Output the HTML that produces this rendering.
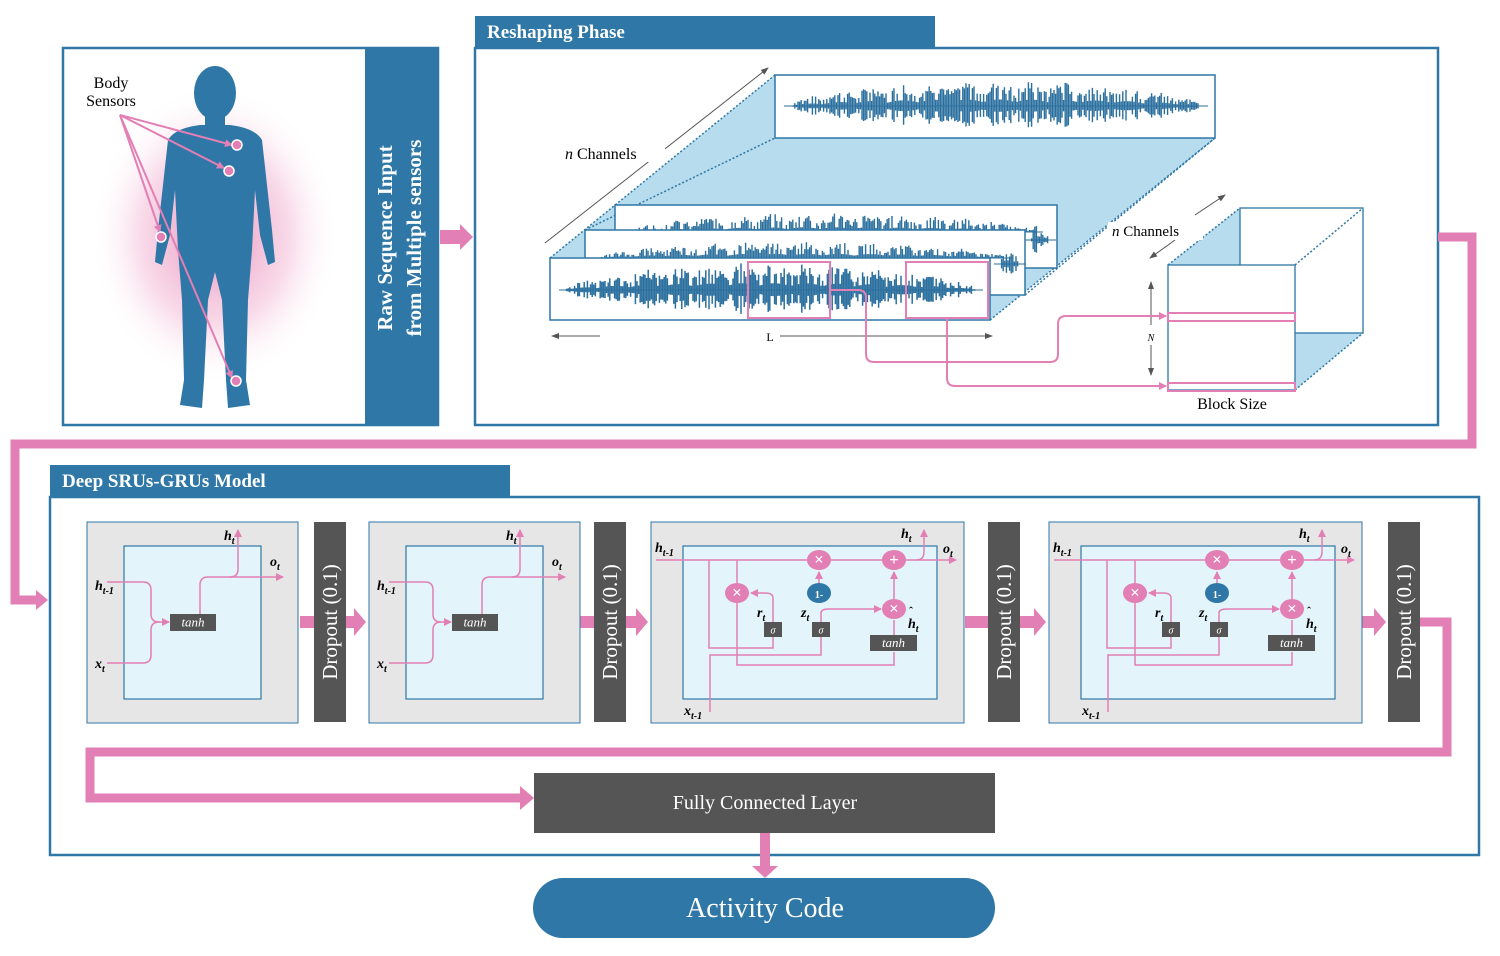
<!DOCTYPE html>
<html><head><meta charset="utf-8"><style>
html,body{margin:0;padding:0;background:#fff}
svg{display:block}
text{font-family:"Liberation Serif",serif}
</style></head><body>
<svg id="s" width="1500" height="956" viewBox="0 0 1500 956" xmlns="http://www.w3.org/2000/svg">
<defs>
<radialGradient id="glow" cx="50%" cy="50%" r="50%">
<stop offset="0" stop-color="#e47fb3" stop-opacity="0.9"/>
<stop offset="0.6" stop-color="#f2b6d3" stop-opacity="0.5"/>
<stop offset="1" stop-color="#fff" stop-opacity="0"/>
</radialGradient>
<marker id="ah" markerWidth="8" markerHeight="8" refX="7" refY="4" orient="auto" markerUnits="userSpaceOnUse"><path d="M0,0 L8,4 L0,8z" fill="#e27fb4"/></marker>
<marker id="ag" markerWidth="8" markerHeight="8" refX="7" refY="4" orient="auto" markerUnits="userSpaceOnUse"><path d="M0,1 L8,4 L0,7z" fill="#555"/></marker>
</defs>

<!-- Left panel -->
<rect x="63" y="48" width="375" height="377" fill="#fff" stroke="#2e77a6" stroke-width="2.5"/>
<ellipse cx="215" cy="235" rx="125" ry="150" fill="url(#glow)"/>
<g fill="#2e77a6">
<ellipse cx="215" cy="93" rx="21" ry="27"/>
<rect x="205" y="112" width="20" height="20"/>
<path d="M168,140 Q175,128 200,125 L230,125 Q255,128 262,140 L272,230 L275,262 L268,265 L260,235 L255,190 L252,250 L248,300 L246,380 L250,405 L228,408 L226,380 L222,300 L215,272 L208,300 L204,380 L202,408 L180,405 L184,380 L182,300 L178,250 L175,190 L170,235 L162,265 L155,262 L158,230 Z"/>
</g>
<text x="111" y="88" font-size="16" text-anchor="middle">Body</text>
<text x="111" y="106" font-size="16" text-anchor="middle">Sensors</text>
<g stroke="#e27fb4" stroke-width="2" fill="none">
<line x1="120" y1="115" x2="232" y2="145" marker-end="url(#ah)"/>
<line x1="120" y1="115" x2="224" y2="168" marker-end="url(#ah)"/>
<line x1="120" y1="115" x2="160" y2="232" marker-end="url(#ah)"/>
<line x1="120" y1="115" x2="232" y2="378" marker-end="url(#ah)"/>
</g>
<g fill="#e27fb4" stroke="#fff" stroke-width="1.5"><circle cx="237" cy="145" r="5"/><circle cx="229" cy="171" r="5"/><circle cx="161" cy="237" r="5"/><circle cx="236" cy="381" r="5"/></g>
<rect x="365" y="48" width="73" height="377" fill="#2e77a6"/>
<text transform="translate(392,238) rotate(-90)" font-size="21" font-weight="bold" fill="#fff" text-anchor="middle">Raw Sequence Input</text>
<text transform="translate(421,238) rotate(-90)" font-size="21" font-weight="bold" fill="#fff" text-anchor="middle">from Multiple sensors</text>
<path d="M440,230 L460,230 L460,224 L473,237 L460,250 L460,244 L440,244Z" fill="#e27fb4"/>

<!-- Reshaping -->
<rect x="475" y="48" width="963" height="377" fill="#fff" stroke="#2e77a6" stroke-width="2.5"/>
<rect x="475" y="16" width="460" height="32" fill="#2e77a6"/>
<text x="487" y="38" font-size="19" font-weight="bold" fill="#fff">Reshaping Phase</text>

<polygon points="550,258 775,75 1215,138 990,320" fill="#b6dcee"/>
<g stroke="#2e77a6" stroke-width="1.5" stroke-dasharray="2,2" fill="none">
<line x1="550" y1="258" x2="775" y2="75"/><line x1="585" y1="230" x2="775" y2="138"/><line x1="990" y1="320" x2="1215" y2="138"/><line x1="1025" y1="295" x2="1215" y2="138"/>
</g>
<line x1="545" y1="243" x2="768" y2="68" stroke="#555" stroke-width="1" marker-end="url(#ag)"/>
<rect x="555" y="140" width="110" height="22" fill="#fff"/>
<text x="565" y="159" font-size="16"><tspan font-style="italic">n</tspan> Channels</text>
<rect x="775" y="75" width="440" height="63" fill="#fff" stroke="#2e77a6" stroke-width="1.5"/>
<g id="w0" fill="none" stroke="#2a6f9e" stroke-width="1.4"></g>
<rect x="615" y="205" width="442" height="63" fill="#fff" stroke="#2e77a6" stroke-width="1.5"/>
<g id="w1" fill="none" stroke="#2a6f9e" stroke-width="1.4"></g>
<rect x="585" y="230" width="440" height="65" fill="#fff" stroke="#2e77a6" stroke-width="1.5"/>
<g id="w2" fill="none" stroke="#2a6f9e" stroke-width="1.4"></g>
<rect x="550" y="258" width="440" height="62" fill="#fff" stroke="#2e77a6" stroke-width="1.5"/>
<g id="w3" fill="none" stroke="#2a6f9e" stroke-width="1.5"></g>
<rect x="748" y="262" width="82" height="56" fill="none" stroke="#e27fb4" stroke-width="2"/>
<rect x="906" y="262" width="82" height="56" fill="none" stroke="#e27fb4" stroke-width="2"/>
<line x1="600" y1="336" x2="552" y2="336" stroke="#555" stroke-width="1" marker-end="url(#ag)"/>
<line x1="780" y1="336" x2="992" y2="336" stroke="#555" stroke-width="1" marker-end="url(#ag)"/>
<text x="770" y="341" font-size="12" text-anchor="middle">L</text>

<!-- cube -->
<polygon points="1168,265 1240,208 1240,265" fill="#b6dcee"/>
<polygon points="1295,390 1363,333 1295,333" fill="#b6dcee"/>
<rect x="1240" y="208" width="123" height="125" fill="none" stroke="#2e77a6" stroke-width="1.3"/>
<rect x="1168" y="265" width="127" height="125" fill="#fff" stroke="#2e77a6" stroke-width="1.3"/>
<g stroke="#2e77a6" stroke-width="1.5" stroke-dasharray="2,2"><line x1="1168" y1="265" x2="1240" y2="208"/><line x1="1295" y1="265" x2="1363" y2="208"/><line x1="1295" y1="390" x2="1363" y2="333"/></g>
<line x1="1195" y1="215" x2="1225" y2="195" stroke="#555" marker-end="url(#ag)"/>
<line x1="1175" y1="240" x2="1150" y2="258" stroke="#555" marker-end="url(#ag)"/>
<rect x="1108" y="222" width="95" height="18" fill="#fff"/>
<text x="1112" y="236" font-size="15"><tspan font-style="italic">n</tspan> Channels</text>
<line x1="1151" y1="325" x2="1151" y2="282" stroke="#555" marker-end="url(#ag)"/>
<line x1="1151" y1="345" x2="1151" y2="375" stroke="#555" marker-end="url(#ag)"/>
<text x="1151" y="341" font-size="10" font-style="italic" text-anchor="middle">N</text>
<rect x="1168" y="313" width="127" height="8" fill="none" stroke="#e27fb4" stroke-width="2"/>
<rect x="1168" y="383" width="127" height="8" fill="none" stroke="#e27fb4" stroke-width="2"/>
<g stroke="#e27fb4" stroke-width="2" fill="none">
<path d="M830,290 L858,290 Q866,290 866,298 L866,354 Q866,362 874,362 L1050,362 Q1058,362 1058,354 L1058,324 Q1058,316 1066,316 L1166,316" marker-end="url(#ah)"/>
<path d="M947,318 L947,378 Q947,386 955,386 L1166,386" marker-end="url(#ah)"/>
</g>
<text x="1232" y="409" font-size="16" text-anchor="middle">Block Size</text>

<path d="M1438,237 L1472,237 L1472,444 L15,444 L15,600 L38,600" fill="none" stroke="#e27fb4" stroke-width="9"/>
<path d="M36,590 L48,600 L36,610Z" fill="#e27fb4"/>

<!-- Deep model -->
<rect x="50" y="497" width="1429" height="358" fill="#fff" stroke="#2e77a6" stroke-width="2.5"/>
<rect x="50" y="465" width="460" height="32" fill="#2e77a6"/>
<text x="62" y="487" font-size="19" font-weight="bold" fill="#fff">Deep SRUs-GRUs Model</text>

<g id="cells"></g>

<path d="M1420,622 L1447,622 L1447,752 L90,752 L90,798 L520,798" fill="none" stroke="#e27fb4" stroke-width="9"/>
<path d="M520,786 L534,798 L520,810Z" fill="#e27fb4"/>
<rect x="534" y="773" width="461" height="60" fill="#555"/>
<text x="765" y="809" font-size="20" fill="#fff" text-anchor="middle">Fully Connected Layer</text>
<path d="M760,833 L770,833 L770,866 L778,866 L765,878 L752,866 L760,866Z" fill="#e27fb4"/>
<rect x="533" y="878" width="462" height="60" rx="30" fill="#2e77a6"/>
<text x="765" y="917" font-size="28" fill="#fff" text-anchor="middle">Activity Code</text>
</svg>
<script>
(function(){
var NS="http://www.w3.org/2000/svg";
function el(p,t,a,txt){var e=document.createElementNS(NS,t);for(var k in a)e.setAttribute(k,a[k]);if(txt!==undefined)e.textContent=txt;p.appendChild(e);return e;}
var seed=7;function rnd(){seed=(seed*9301+49297)%233280;return seed/233280;}
function wave(id,x0,x1,cy,amp,up){var w=document.getElementById(id);var d="";for(var x=x0;x<x1;x+=1.6){var t=(x-x0)/(x1-x0);var env=Math.pow(Math.sin(Math.PI*t),0.5);env*=0.6+0.4*Math.abs(Math.sin(t*40));var r=rnd();var a=amp*env*(r<0.3?0.25:0.5+0.5*rnd());if(up)d+=" M"+x.toFixed(1)+","+cy+" L"+x.toFixed(1)+","+(cy-a*1.2).toFixed(1);else d+=" M"+x.toFixed(1)+","+(cy-a).toFixed(1)+" L"+x.toFixed(1)+","+(cy+a*0.9).toFixed(1);}el(w,'path',{d:d});el(w,'line',{x1:x0-6,y1:cy,x2:x1+8,y2:cy,'stroke-width':1});}
wave('w0',790,1200,106,26,false);
wave('w1',628,1035,232,16,true);wave('w1',1030,1048,240,16,false);
wave('w2',600,1005,258,14,true);wave('w2',1000,1018,264,16,false);
wave('w3',565,975,290,27,false);
var c=document.getElementById('cells');
var P="#e27fb4";
function line(d,arrow){var a={d:d,fill:'none',stroke:P,'stroke-width':1.5};if(arrow)a['marker-end']='url(#ah)';el(c,'path',a);}
function lab(x,y,main,sub,size){var t=el(c,'text',{x:x,y:y,'font-size':size||14,'font-weight':'bold','font-style':'italic'});var a=document.createElementNS(NS,'tspan');a.textContent=main;t.appendChild(a);if(sub){var b=document.createElementNS(NS,'tspan');b.setAttribute('font-size','10');b.setAttribute('dy','4');b.textContent=sub;t.appendChild(b);}}
function box(x,y,w,h,txt,fs){el(c,'rect',{x:x,y:y,width:w,height:h,fill:'#555'});el(c,'text',{x:x+w/2,y:y+h/2+4,'font-size':fs||12,'font-style':'italic',fill:'#fff','text-anchor':'middle'},txt);}
function op(x,y,sym,col){el(c,'ellipse',{cx:x,cy:y,rx:12,ry:10,fill:col||P});el(c,'text',{x:x,y:y+5,'font-size':sym=='1-'?10:17,'font-weight':'bold',fill:'#fff','text-anchor':'middle','font-family':'Liberation Sans,sans-serif'},sym);}
function drop(x){el(c,'rect',{x:x,y:522,width:32,height:200,fill:'#555'});el(c,'text',{transform:'translate('+(x+23)+',622) rotate(-90)','font-size':21,fill:'#fff','text-anchor':'middle'},'Dropout (0.1)');}
function parrow(x0,x1){el(c,'path',{d:'M'+x0+',616 L'+(x1-12)+',616 L'+(x1-12)+',608 L'+x1+',622 L'+(x1-12)+',636 L'+(x1-12)+',628 L'+x0+',628Z',fill:P});}
function sru(x){el(c,'rect',{x:x,y:522,width:211,height:201,fill:'#e6e6e6',stroke:'#2e77a6','stroke-width':1});el(c,'rect',{x:x+37,y:546,width:137,height:153,fill:'#e3f4fb',stroke:'#2e77a6','stroke-width':1.2});
line('M'+(x+20)+',582 L'+(x+56)+',582 Q'+(x+64)+',582 '+(x+64)+',590 L'+(x+64)+',614 Q'+(x+64)+',622 '+(x+72)+',622');
line('M'+(x+20)+',663 L'+(x+56)+',663 Q'+(x+64)+',663 '+(x+64)+',655 L'+(x+64)+',630 Q'+(x+64)+',622 '+(x+72)+',622 L'+(x+82)+',622',true);
line('M'+(x+113)+',614 L'+(x+113)+',585 Q'+(x+113)+',577 '+(x+121)+',577 L'+(x+196)+',577',true);
line('M'+(x+143)+',577 Q'+(x+151)+',577 '+(x+151)+',569 L'+(x+151)+',530',true);
box(x+83,614,46,17,'tanh',13);
lab(x+8,590,'h','t-1');lab(x+8,668,'x','t');lab(x+137,540,'h','t');lab(x+183,566,'o','t');}
function gru(x){el(c,'rect',{x:x,y:522,width:313,height:201,fill:'#e6e6e6',stroke:'#2e77a6','stroke-width':1});el(c,'rect',{x:x+32,y:546,width:254,height:153,fill:'#e3f4fb',stroke:'#2e77a6','stroke-width':1.2});
var hy=560;
line('M'+(x+5)+','+hy+' L'+(x+305)+','+hy,true);
line('M'+(x+265)+','+hy+' Q'+(x+273)+','+hy+' '+(x+273)+','+(hy-8)+' L'+(x+273)+',530',true);
line('M'+(x+58)+','+hy+' L'+(x+58)+',648 L'+(x+122)+',648 L'+(x+122)+',630');
line('M'+(x+86)+','+hy+' L'+(x+86)+',665 L'+(x+243)+',665 L'+(x+243)+',652');
line('M'+(x+59)+',712 L'+(x+59)+',655 L'+(x+170)+',655 L'+(x+170)+',630');
line('M'+(x+122)+',622 L'+(x+122)+',598 Q'+(x+122)+',593 '+(x+114)+',593 L'+(x+100)+',593',true);
line('M'+(x+170)+',622 L'+(x+170)+',613 Q'+(x+170)+',609 '+(x+178)+',609 L'+(x+230)+',609',true);
line('M'+(x+168)+',585 L'+(x+168)+',572',true);
line('M'+(x+243)+',600 L'+(x+243)+',572',true);
line('M'+(x+243)+',637 L'+(x+243)+',620');
op(x+168,hy,'×');op(x+243,hy,'+');op(x+86,593,'×');op(x+168,593,'1-','#2e77a6');op(x+243,609,'×');
box(x+113,622,18,15,'σ',10);box(x+161,622,18,15,'σ',10);box(x+219,635,47,16,'tanh',13);
lab(x+4,552,'h','t-1');lab(x+250,538,'h','t');lab(x+292,553,'o','t');lab(x+106,617,'r','t');lab(x+150,617,'z','t');lab(x+257,628,'h','t');
el(c,'text',{x:x+258,y:615,'font-size':12,'font-weight':'bold'},'ˆ');
lab(x+33,715,'x','t-1');}
parrow(300,366);parrow(580,648);parrow(965,1046);parrow(1362,1386);
sru(87);drop(314);
sru(369);drop(594);
gru(651);drop(988);
gru(1049);drop(1388);
})();
</script>
</body></html>
